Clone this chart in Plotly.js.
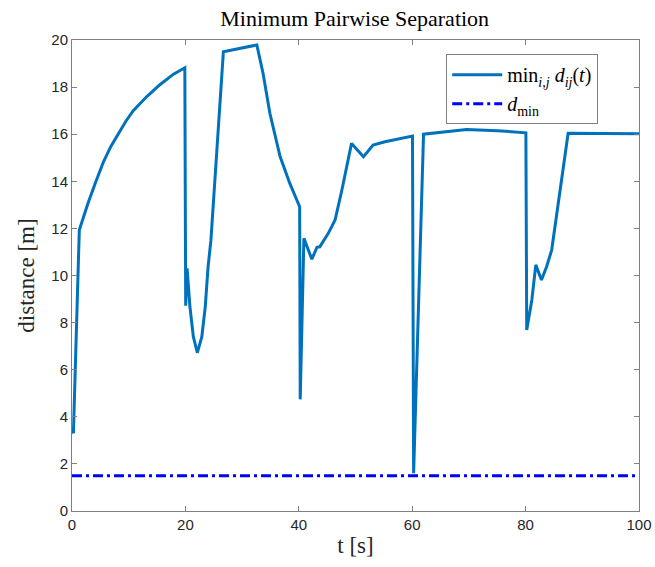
<!DOCTYPE html>
<html>
<head>
<meta charset="utf-8">
<script src="https://cdn.plot.ly/plotly-3.0.1.min.js"></script>
<style>html,body{margin:0;padding:0;background:#fff;}#chart{width:655px;height:567px;}</style>
</head>
<body>
<div id="chart"></div>
<script>
// Minimum pairwise separation over time
var tValues = [0, 0.25, 1.29, 2.06, 2.82, 4.23, 5.59, 6.9, 8.2, 9.5, 10.8, 13.2, 15.5, 17.9, 19.9,
  20.05, 20.3, 20.8, 21.4, 22.1, 22.9, 23.5, 24.0, 24.5, 25.6, 26.7, 32.6,
  33.7, 34.9, 36.7, 38.4, 39.9, 40.15,
  40.25, 40.9, 42.3, 43.2, 43.7, 45.2, 46.4, 47.6, 49.3, 51.4, 53.1, 55.2, 60.05,
  60.25, 62.0, 66.0, 69.6, 75.0, 80.05,
  80.2, 81.1, 81.8, 82.8, 83.7, 84.6, 87.5, 100];
var dMinPair = [3.5, 3.3, 11.93, 12.5, 13.07, 14.0, 14.85, 15.5, 16.05, 16.55, 17.0, 17.6, 18.1, 18.55, 18.82,
  8.72, 10.3, 8.67, 7.4, 6.72, 7.4, 8.67, 10.37, 11.5, 15.5, 19.5, 19.79,
  18.58, 16.89, 15.05, 13.92, 13.0, 12.92,
  4.74, 11.58, 10.69, 11.2, 11.22, 11.79, 12.36, 13.63, 15.61, 15.04, 15.54, 15.68, 15.92,
  1.6, 16.0, 16.12, 16.2, 16.15, 16.06,
  7.69, 8.96, 10.45, 9.81, 10.37, 11.08, 16.04, 16.02];
var dMinLimit = 1.5;
var xTicks = [0, 20, 40, 60, 80, 100];
var yTicks = [0, 2, 4, 6, 8, 10, 12, 14, 16, 18, 20];

var serif = "Liberation Serif";
var sans = "Liberation Sans";

var traces = [
  {
    x: tValues, y: dMinPair, type: "scatter", mode: "lines",
    name: "min<sub><i>i,j</i></sub> <i>d<sub>ij</sub></i>(<i>t</i>)",
    line: {color: "#0072BD", width: 3}
  },
  {
    x: [xTicks[0], xTicks[xTicks.length - 1]], y: [dMinLimit, dMinLimit],
    type: "scatter", mode: "lines",
    name: "<i>d</i><sub>min</sub>",
    line: {color: "#0000FF", width: 3, dash: "10px,4px,3px,4px"}
  }
];

var axisCommon = {
  showline: true, mirror: "ticks", linecolor: "#7f7f7f", linewidth: 1,
  ticks: "inside", ticklen: 5, tickcolor: "#7f7f7f",
  showgrid: false, zeroline: false,
  tickfont: {family: sans, size: 15, color: "#262626"}
};

var layout = {
  width: 655, height: 567,
  margin: {l: 72, r: 16, t: 40, b: 56},
  paper_bgcolor: "#fff", plot_bgcolor: "#fff",
  title: {text: "Minimum Pairwise Separation", font: {family: serif, size: 22, color: "#000"}, x: 0.5415, xanchor: "center", y: 0.968, yanchor: "middle"},
  xaxis: Object.assign({}, axisCommon, {
    range: [0, 100], tickvals: xTicks, ticktext: xTicks.map(String),
    title: {text: "t [s]", font: {family: serif, size: 23, color: "#262626"}, standoff: 4}
  }),
  yaxis: Object.assign({}, axisCommon, {
    range: [0, 20], tickvals: yTicks, ticktext: yTicks.map(String),
    title: {text: "distance [m]", font: {family: serif, size: 23, color: "#262626"}, standoff: 10}
  }),
  showlegend: true,
  legend: {
    x: 0.66, y: 0.97, xanchor: "left", yanchor: "top",
    bgcolor: "#fff", bordercolor: "#7f7f7f", borderwidth: 1,
    font: {family: serif, size: 20, color: "#000"},
    itemwidth: 50,
    tracegroupgap: 0
  }
};

Plotly.newPlot("chart", traces, layout, {displayModeBar: false, staticPlot: true});
</script>
</body>
</html>
